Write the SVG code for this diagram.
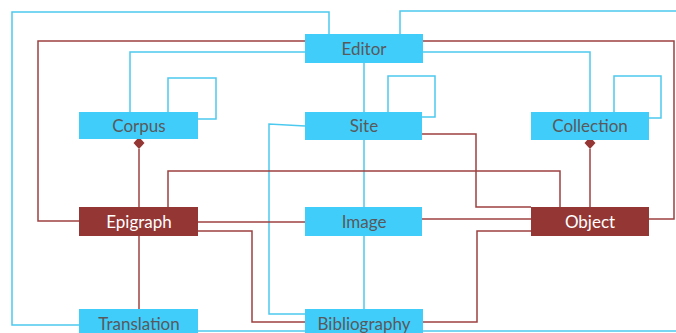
<svg xmlns="http://www.w3.org/2000/svg" width="676" height="333" viewBox="0 0 676 333">
<style>
.bb{fill:#40CDFA}
.rb{fill:#943634}
.bt{font-family:Lato,"Open Sans","Liberation Sans",sans-serif;font-size:17px;fill:#59595b;text-anchor:middle}
.rt{font-family:Lato,"Open Sans","Liberation Sans",sans-serif;font-size:17px;fill:#ffffff;text-anchor:middle}
.bl{fill:none;stroke:#4CC9EF;stroke-width:1.5}
.rl{fill:none;stroke:#9E4040;stroke-width:1.5}
</style>
<defs>
<marker id="dia" viewBox="0 0 12 12" refX="0" refY="6" markerWidth="12" markerHeight="12" markerUnits="userSpaceOnUse" orient="auto">
<path d="M0,6 L6,0.5 L12,6 L6,11.5 Z" fill="#943634"/>
</marker>
</defs>
<rect width="676" height="333" fill="#ffffff"/>
<g id="connectors">
<path class="bl" d="M329,34 V12 H12 V325 H79"/>
<path class="bl" d="M400,34 V11 H680 V331 H198"/>
<path class="bl" d="M305,52 H130 V112"/>
<path class="bl" d="M423,52 H590 V112"/>
<path class="bl" d="M364,63 V112"/>
<path class="bl" d="M364,140 V207"/>
<path class="bl" d="M364,236 V309"/>
<path class="bl" d="M168,112 V78 H216 V119 H198"/>
<path class="bl" d="M388,112 V76 H435 V117 H422"/>
<path class="bl" d="M614,112 V76 H661 V118 H649"/>
<path class="bl" d="M305,126 L269,124 V314 H305"/>
<path class="rl" d="M305,41 H38 V221 H79"/>
<path class="rl" d="M423,41 H674 V219 H649"/>
<path class="rl" d="M139,207 V149" marker-end="url(#dia)"/>
<path class="rl" d="M590,207 V149" marker-end="url(#dia)"/>
<path class="rl" d="M168,207 V171 H560 V207"/>
<path class="rl" d="M422,134 H476 V207 H531"/>
<path class="rl" d="M198,222 H305"/>
<path class="rl" d="M422,219 H531"/>
<path class="rl" d="M198,231 H252 V322 H305"/>
<path class="rl" d="M423,322 H477 V231 H531"/>
<path class="rl" d="M139,236 V309"/>
</g>
<g id="editor"><rect class="bb" x="305" y="34" width="118" height="29"/><text class="bt" x="364" y="55">Editor</text></g>
<g id="corpus"><rect class="bb" x="79" y="112" width="119" height="27"/><text class="bt" x="139" y="132">Corpus</text></g>
<g id="site"><rect class="bb" x="305" y="112" width="117" height="28"/><text class="bt" x="364" y="132">Site</text></g>
<g id="collection"><rect class="bb" x="531" y="112" width="118" height="28"/><text class="bt" x="590" y="132">Collection</text></g>
<g id="epigraph"><rect class="rb" x="79" y="207" width="119" height="29"/><text class="rt" x="139" y="228">Epigraph</text></g>
<g id="image"><rect class="bb" x="305" y="207" width="117" height="29"/><text class="bt" x="364" y="228">Image</text></g>
<g id="object"><rect class="rb" x="531" y="207" width="118" height="29"/><text class="rt" x="590" y="228">Object</text></g>
<g id="translation"><rect class="bb" x="79" y="309" width="119" height="29"/><text class="bt" x="139" y="330">Translation</text></g>
<g id="bibliography"><rect class="bb" x="305" y="309" width="118" height="29"/><text class="bt" x="364" y="330">Bibliography</text></g>
</svg>
